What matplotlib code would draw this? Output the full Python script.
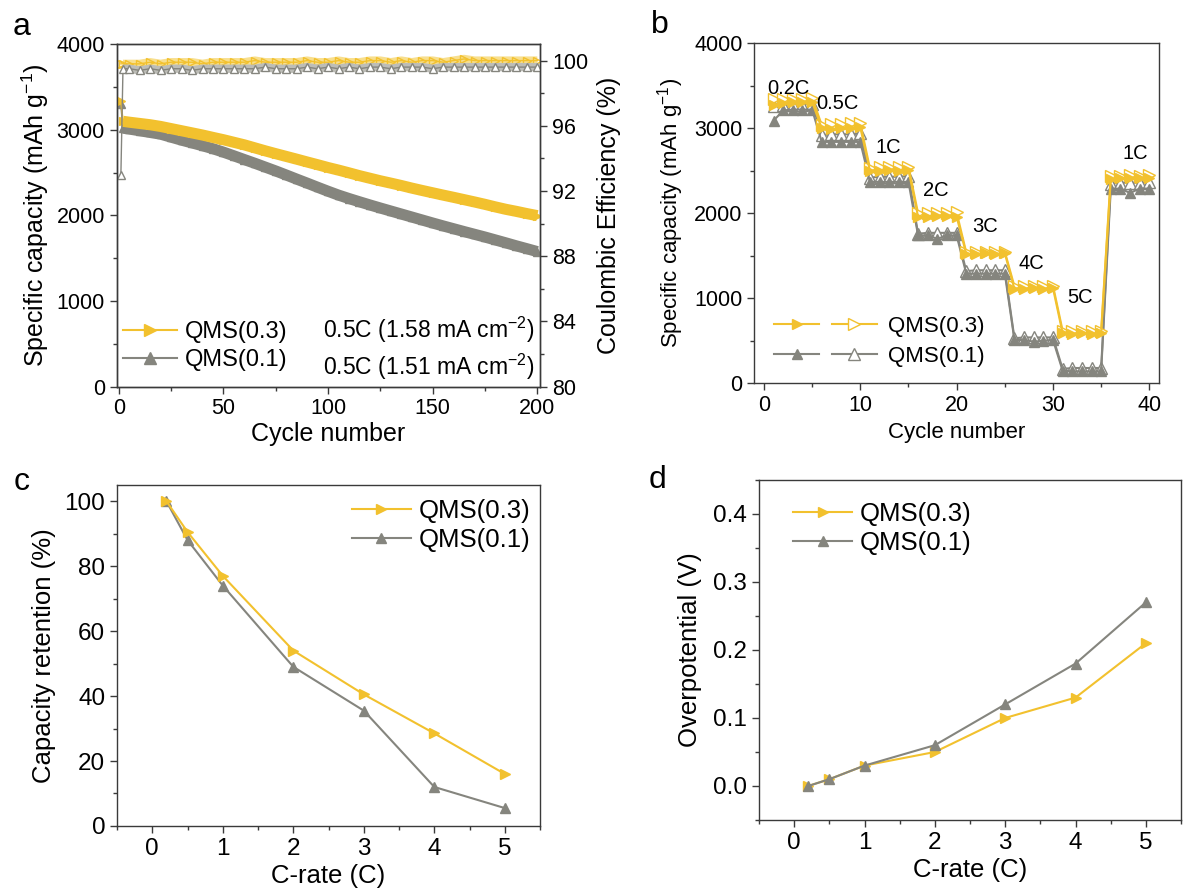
import matplotlib.pyplot as plt
from matplotlib.lines import Line2D
from matplotlib.legend_handler import HandlerTuple
from matplotlib.ticker import MultipleLocator

plt.rcParams['font.family'] = ['Liberation Sans', 'DejaVu Sans']
plt.rcParams['mathtext.default'] = 'regular'

YEL = '#F2C12E'
YEL_PALE = '#F8DF8E'
GRY = '#85857E'
GRY_PALE = '#BDBDB7'
SPINE = '#3A3A3A'

# --- (a) long cycling at 0.5C ---
cyc_a = [1, 2] + list(range(5, 201, 5))
cap_03 = [3333, 3100, 3090, 3075, 3060, 3040, 3015, 2990, 2965, 2940, 2912, 2885,
          2855, 2825, 2790, 2755, 2722, 2690, 2658, 2625, 2593, 2560, 2530, 2498,
          2465, 2435, 2405, 2378, 2350, 2320, 2292, 2265, 2238, 2212, 2185, 2158,
          2130, 2100, 2072, 2048, 2022, 1998]
cap_01 = [3300, 3020, 3010, 2990, 2970, 2950, 2915, 2880, 2848, 2815, 2780, 2740,
          2697, 2653, 2610, 2565, 2520, 2473, 2425, 2378, 2330, 2283, 2238, 2198,
          2160, 2123, 2087, 2052, 2017, 1982, 1947, 1912, 1878, 1845, 1812, 1780,
          1748, 1714, 1680, 1645, 1612, 1578]
ce_03 = [99.8, 99.8, 99.8, 99.8, 99.9, 99.8, 99.9, 99.9, 99.9, 99.8, 99.9, 99.9,
         99.9, 99.9, 100.0, 99.9, 99.9, 99.9, 99.9, 100.0, 99.9, 99.9, 100.0, 99.9,
         99.9, 100.0, 100.0, 99.9, 100.0, 99.9, 100.0, 100.0, 99.9, 100.0, 100.1, 100.0,
         100.0, 100.0, 100.0, 100.0, 100.0, 100.0]
ce_01 = [93.0, 99.5, 99.5, 99.4, 99.5, 99.4, 99.5, 99.5, 99.4, 99.5, 99.5, 99.5,
         99.5, 99.5, 99.5, 99.6, 99.5, 99.5, 99.5, 99.6, 99.5, 99.6, 99.5, 99.6,
         99.5, 99.6, 99.6, 99.5, 99.6, 99.6, 99.6, 99.5, 99.6, 99.6, 99.6, 99.6,
         99.6, 99.6, 99.6, 99.6, 99.6, 99.6]

# --- (b) rate performance ---
cyc_b = list(range(1, 41))
rate_03_fill = [3270, 3300, 3310, 3310, 3310, 3000, 2990, 3000, 3000, 3010,
                2500, 2500, 2510, 2500, 2510, 1960, 1960, 1970, 1970, 1960,
                1520, 1520, 1530, 1520, 1530, 1110, 1110, 1120, 1110, 1120,
                590, 580, 590, 580, 590, 2400, 2410, 2410, 2410, 2420]
rate_03_open = [3340, 3350, 3350, 3350, 3360, 3040, 3050, 3050, 3060, 3060,
                2530, 2540, 2540, 2540, 2550, 2000, 2000, 2000, 2000, 2010,
                1540, 1550, 1550, 1550, 1550, 1140, 1140, 1150, 1140, 1150,
                620, 620, 610, 620, 620, 2440, 2440, 2450, 2440, 2450]
rate_01_fill = [3090, 3210, 3220, 3220, 3220, 2840, 2840, 2840, 2840, 2840,
                2370, 2370, 2370, 2370, 2370, 1740, 1740, 1700, 1740, 1740,
                1290, 1290, 1290, 1290, 1290, 510, 510, 490, 500, 510,
                150, 140, 140, 140, 140, 2290, 2290, 2240, 2290, 2290]
rate_01_open = [3260, 3280, 3280, 3280, 3290, 2920, 2930, 2930, 2930, 2940,
                2420, 2430, 2430, 2430, 2440, 1760, 1770, 1770, 1770, 1770,
                1320, 1330, 1330, 1330, 1330, 530, 540, 540, 540, 540,
                170, 180, 180, 180, 180, 2350, 2360, 2360, 2360, 2370]
rate_labels = ['0.2C', '0.5C', '1C', '2C', '3C', '4C', '5C', '1C']
rate_label_x = [2.5, 7.6, 12.9, 17.8, 23.0, 27.8, 32.8, 38.5]
rate_label_y = [3470, 3290, 2780, 2270, 1840, 1410, 1015, 2700]

# --- (c), (d) vs C-rate ---
c_rate = [0.2, 0.5, 1, 2, 3, 4, 5]
retention_03 = [100, 90.5, 77, 54, 40.5, 28.5, 16]
retention_01 = [100, 88, 74, 49, 35.5, 12, 5.5]
overpot_03 = [0.0, 0.01, 0.03, 0.05, 0.10, 0.13, 0.21]
overpot_01 = [0.0, 0.01, 0.03, 0.06, 0.12, 0.18, 0.27]

fig = plt.figure(figsize=(11.86, 8.91), dpi=100)


def style_axes(ax, fs):
    for s in ax.spines.values():
        s.set_color(SPINE)
        s.set_linewidth(1.0)
    ax.tick_params(which='both', direction='out', colors=SPINE, labelcolor='black',
                   labelsize=fs, top=False, right=False)
    ax.tick_params(which='major', length=5, width=1)
    ax.tick_params(which='minor', length=3, width=1)


# panel a
ax = fig.add_axes([0.0984, 0.5660, 0.3573, 0.3843])
ax.plot(cyc_a, cap_01, color=GRY, lw=1.2, marker='^', ms=6, zorder=3)
ax.plot(cyc_a[1:], cap_01[1:], color=GRY, lw=8, solid_capstyle='butt', zorder=3)
ax.plot(cyc_a, cap_03, color=YEL, lw=1.2, marker='>', ms=6, zorder=3)
ax.plot(cyc_a[1:], cap_03[1:], color=YEL, lw=8, solid_capstyle='butt', zorder=3)
ax.set_xlim(-1, 201.5)
ax.set_ylim(0, 4000)
ax.xaxis.set_major_locator(MultipleLocator(50))
ax.xaxis.set_minor_locator(MultipleLocator(25))
ax.yaxis.set_major_locator(MultipleLocator(1000))
ax.yaxis.set_minor_locator(MultipleLocator(500))
style_axes(ax, 15.5)
ax.set_xlabel('Cycle number', fontsize=18, labelpad=2)
ax.set_ylabel('Specific capacity (mAh g$^{-1}$)', fontsize=18, labelpad=4)

ax2 = ax.twinx()
ax2.plot(cyc_a[1:], ce_03[1:], color=YEL_PALE, lw=6, solid_capstyle='butt')
ax2.plot(cyc_a, ce_03, color=YEL, lw=1, marker='>', ms=6, mfc='none', mec=YEL)
ax2.plot(cyc_a[1:], ce_01[1:], color=GRY_PALE, lw=6, solid_capstyle='butt')
ax2.plot(cyc_a, ce_01, color=GRY, lw=1, marker='^', ms=6, mfc='white', mec=GRY)
ax2.set_ylim(80, 101)
ax2.yaxis.set_major_locator(MultipleLocator(4))
ax2.yaxis.set_minor_locator(MultipleLocator(2))
style_axes(ax2, 15.5)
ax2.tick_params(which='both', right=True, left=False)
ax2.set_ylabel('Coulombic Efficiency (%)', fontsize=18, labelpad=6)

h_a = [Line2D([], [], color=YEL, lw=1.5, marker='>', ms=9),
       Line2D([], [], color=GRY, lw=1.5, marker='^', ms=9)]
ax.legend(h_a, ['QMS(0.3)', 'QMS(0.1)'], loc='lower left', bbox_to_anchor=(-0.035, -0.016),
          frameon=False, fontsize=17, handlelength=2.3, handletextpad=0.3, labelspacing=0.25)
ax.text(0.985, 0.166, '0.5C (1.58 mA cm$^{-2}$)', transform=ax.transAxes, ha='right',
        va='center', fontsize=16.5)
ax.text(0.985, 0.058, '0.5C (1.51 mA cm$^{-2}$)', transform=ax.transAxes, ha='right',
        va='center', fontsize=16.5)

# panel b
bx = fig.add_axes([0.6360, 0.5698, 0.3412, 0.3816])
g_open, = bx.plot(cyc_b, rate_01_open, color=GRY, lw=1.5, marker='^', ms=8, mfc='white', mec=GRY)
g_fill, = bx.plot(cyc_b, rate_01_fill, color=GRY, lw=1.5, marker='^', ms=7)
y_open, = bx.plot(cyc_b, rate_03_open, color=YEL, lw=1.5, marker='>', ms=8, mfc='white', mec=YEL)
y_fill, = bx.plot(cyc_b, rate_03_fill, color=YEL, lw=1.5, marker='>', ms=7)
for lab, lx, ly in zip(rate_labels, rate_label_x, rate_label_y):
    bx.text(lx, ly, lab, ha='center', va='center', fontsize=14.5)
bx.set_xlim(-1, 41)
bx.set_ylim(0, 4000)
bx.xaxis.set_major_locator(MultipleLocator(10))
bx.xaxis.set_minor_locator(MultipleLocator(5))
bx.yaxis.set_major_locator(MultipleLocator(1000))
bx.yaxis.set_minor_locator(MultipleLocator(500))
style_axes(bx, 15.5)
bx.set_xlabel('Cycle number', fontsize=16, labelpad=4)
bx.set_ylabel('Specific capacity (mAh g$^{-1}$)', fontsize=16, labelpad=6)
bx.legend([(y_fill, y_open), (g_fill, g_open)], ['QMS(0.3)', 'QMS(0.1)'],
          handler_map={tuple: HandlerTuple(ndivide=None, pad=0.6)},
          loc='lower left', bbox_to_anchor=(0.0, -0.01), frameon=False, fontsize=16,
          handlelength=4.6, handletextpad=0.5, labelspacing=0.4)

# panel c
cx = fig.add_axes([0.0987, 0.0730, 0.3567, 0.3827])
cx.plot(c_rate, retention_01, color=GRY, lw=1.5, marker='^', ms=7, label='QMS(0.1)')
cx.plot(c_rate, retention_03, color=YEL, lw=1.5, marker='>', ms=7, label='QMS(0.3)')
cx.set_xlim(-0.5, 5.5)
cx.set_ylim(0, 105)
cx.xaxis.set_major_locator(MultipleLocator(1))
cx.xaxis.set_minor_locator(MultipleLocator(0.5))
cx.yaxis.set_major_locator(MultipleLocator(20))
cx.yaxis.set_minor_locator(MultipleLocator(10))
style_axes(cx, 17.5)
cx.set_xlabel('C-rate (C)', fontsize=18.5, labelpad=3)
cx.set_ylabel('Capacity retention (%)', fontsize=18.5, labelpad=6)
hc, lc = cx.get_legend_handles_labels()
cx.legend(hc[::-1], lc[::-1], loc='upper left', bbox_to_anchor=(0.50, 1.028), frameon=False,
          fontsize=18.5, handlelength=2.3, handletextpad=0.3, labelspacing=0.2)

# panel d
dx = fig.add_axes([0.6400, 0.0797, 0.3558, 0.3816])
dx.plot(c_rate, overpot_03, color=YEL, lw=1.5, marker='>', ms=7, label='QMS(0.3)')
dx.plot(c_rate, overpot_01, color=GRY, lw=1.5, marker='^', ms=7, label='QMS(0.1)')
dx.set_xlim(-0.5, 5.5)
dx.set_ylim(-0.05, 0.45)
dx.xaxis.set_major_locator(MultipleLocator(1))
dx.xaxis.set_minor_locator(MultipleLocator(0.5))
dx.yaxis.set_major_locator(MultipleLocator(0.1))
dx.yaxis.set_minor_locator(MultipleLocator(0.05))
dx.yaxis.set_major_formatter(plt.FormatStrFormatter('%.1f'))
style_axes(dx, 17.5)
dx.set_xlabel('C-rate (C)', fontsize=18.5, labelpad=3)
dx.set_ylabel('Overpotential (V)', fontsize=18.5, labelpad=8)
dx.legend(loc='upper left', bbox_to_anchor=(0.026, 1.004), frameon=False,
          fontsize=18.5, handlelength=2.3, handletextpad=0.3, labelspacing=0.2)

# panel letters
for letter, px, py in [('a', 22, 27), ('b', 660, 25), ('c', 22, 482), ('d', 658, 480)]:
    fig.text(px / 1186, 1 - py / 891, letter, fontsize=23, ha='center', va='center')

fig.savefig('out.png', dpi=100)
